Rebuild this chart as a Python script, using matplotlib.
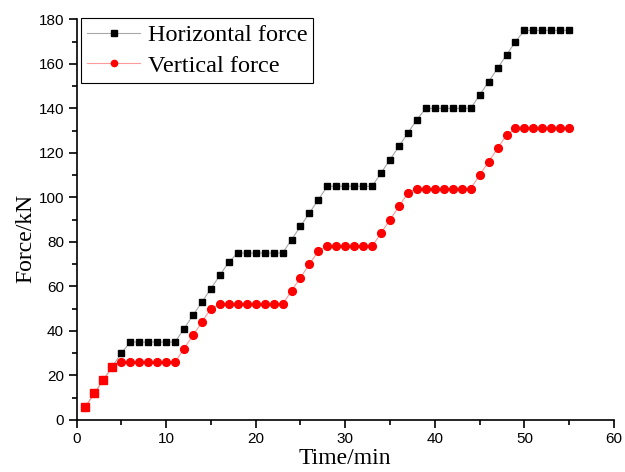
import numpy as np
import matplotlib
matplotlib.use("Agg")
import matplotlib.pyplot as plt
from matplotlib.ticker import MultipleLocator

# Loading steps, one reading per minute
time_min = list(range(1, 56))
horizontal_kN = [6, 12, 18, 24, 30,
                 35, 35, 35, 35, 35, 35,
                 41, 47, 53, 59, 65, 71,
                 75, 75, 75, 75, 75, 75,
                 81, 87, 93, 99, 105, 105, 105, 105, 105, 105,
                 111, 117, 123, 129, 135,
                 140, 140, 140, 140, 140, 140,
                 146, 152, 158, 164, 170,
                 175, 175, 175, 175, 175, 175]
vertical_kN = [6, 12, 18, 24,
               26, 26, 26, 26, 26, 26, 26,
               32, 38, 44, 50,
               52, 52, 52, 52, 52, 52, 52, 52,
               58, 64, 70, 76,
               78, 78, 78, 78, 78, 78,
               84, 90, 96, 102,
               104, 104, 104, 104, 104, 104, 104,
               110, 116, 122, 128,
               131, 131, 131, 131, 131, 131, 131]

serif = ["Liberation Serif", "DejaVu Serif"]
sans = ["Liberation Sans", "DejaVu Sans"]

fig = plt.figure(figsize=(6.25, 4.72), dpi=100)
ax = fig.add_axes([0.1224, 0.1102, 0.86, 0.8488])

t = np.array(time_min)
h = np.array(horizontal_kN)
v = np.array(vertical_kN)

ax.plot(t, h, color="#a8a8a8", lw=0.8, marker="s", ms=4.6,
        mfc="black", mec="black", label="Horizontal force", zorder=3)
ax.plot(t, v, color="#ff9a9a", lw=0.8, marker="o", ms=5.6,
        mfc="red", mec="red", label="Vertical force", zorder=4)
# where both loads coincide the shared marker shows in red
same = h == v
ax.plot(t[same], h[same], ls="none", marker="s", ms=5.4,
        mfc="red", mec="red", zorder=5)

ax.set_xlim(0, 60)
ax.set_ylim(0, 180)
ax.xaxis.set_major_locator(MultipleLocator(10))
ax.xaxis.set_minor_locator(MultipleLocator(5))
ax.yaxis.set_major_locator(MultipleLocator(20))
ax.yaxis.set_minor_locator(MultipleLocator(10))

for side in ("top", "right"):
    ax.spines[side].set_visible(False)
for side in ("left", "bottom"):
    ax.spines[side].set_linewidth(1.2)
ax.tick_params(which="major", direction="out", length=6, width=1.2)
ax.tick_params(which="minor", direction="out", length=3.5, width=1.2)
ax.tick_params(axis="both", labelsize=11, pad=3)
for lab in ax.get_xticklabels() + ax.get_yticklabels():
    lab.set_family(sans)

ax.set_xlabel("Time/min", fontsize=17, family=serif)
ax.set_ylabel("Force/kN", fontsize=17, family=serif)
ax.xaxis.set_label_coords(0.5, -0.071)
ax.yaxis.set_label_coords(-0.075, 0.454)

leg = ax.legend(loc="upper left", bbox_to_anchor=(0.008, 1.003),
                prop={"family": serif, "size": 17.5}, frameon=True,
                fancybox=False, edgecolor="black", framealpha=1,
                handlelength=2.2, handletextpad=0.3, borderpad=0.25,
                labelspacing=0.35, borderaxespad=0.0, markerscale=0.8)
leg.get_frame().set_linewidth(0.8)

fig.savefig("out.png", dpi=100)
